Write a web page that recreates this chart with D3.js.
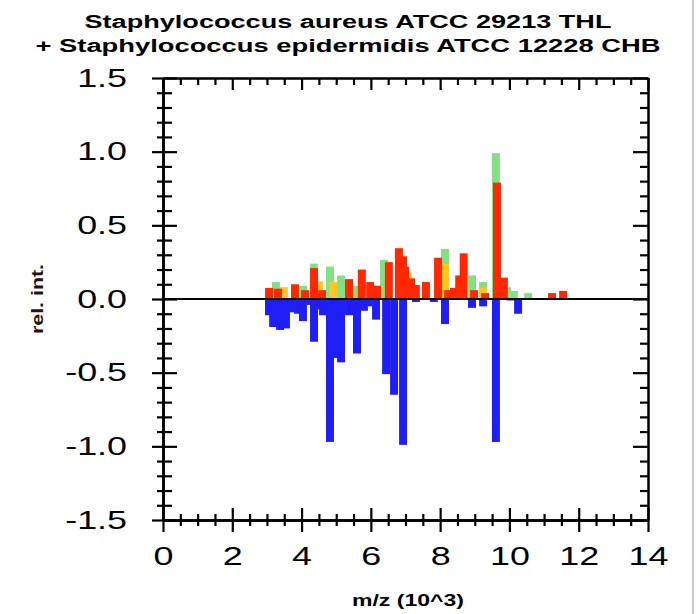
<!DOCTYPE html>
<html>
<head>
<meta charset="utf-8">
<script src="https://cdn.jsdelivr.net/npm/d3@7"></script>
<style>
  html, body { margin: 0; padding: 0; background: #fff; }
  svg { display: block; }
</style>
</head>
<body>
<div id="chart"></div>
<script>
// Chart text
const titleLines = [
  "Staphylococcus aureus ATCC 29213 THL",
  "+ Staphylococcus epidermidis ATCC 12228 CHB"
];
const xLabel = "m/z (10^3)";
const yLabel = "rel. int.";

// Tick values (m/z in thousands, relative intensity)
const xTicks = [0, 2, 4, 6, 8, 10, 12, 14];
const yTicks = [-1.5, -1.0, -0.5, 0.0, 0.5, 1.0, 1.5];

// Peaks as [m/z (10^3), rel. int.].
// Upper spectrum is made of three overlaid layers, lower spectrum is mirrored.
const greenPeaks = [
  [3.26, 0.115], [4.04, 0.09], [4.36, 0.24], [4.82, 0.22], [5.14, 0.16],
  [5.54, 0.09], [6.38, 0.265], [8.14, 0.34], [8.92, 0.16], [9.24, 0.115],
  [9.61, 0.99], [9.93, 0.08], [10.13, 0.055], [10.54, 0.04]
];
const yellowPeaks = [
  [3.49, 0.08], [4.50, 0.12], [4.91, 0.115], [5.43, 0.05], [7.07, 0.18],
  [8.14, 0.24], [9.24, 0.075]
];
const redPeaks = [
  [3.06, 0.075], [3.32, 0.07], [3.81, 0.10], [4.10, 0.06], [4.36, 0.21],
  [4.59, 0.06], [5.37, 0.135], [5.74, 0.20], [5.98, 0.115], [6.18, 0.09],
  [6.52, 0.25], [6.81, 0.345], [6.93, 0.29], [6.99, 0.22], [7.16, 0.14],
  [7.30, 0.095], [7.59, 0.115], [7.94, 0.28], [8.23, 0.06], [8.40, 0.075],
  [8.55, 0.16], [8.68, 0.31], [8.98, 0.06], [9.30, 0.04], [9.64, 0.79],
  [9.84, 0.145], [11.23, 0.04], [11.55, 0.055]
];
const bluePeaks = [
  [3.06, -0.11], [3.18, -0.19], [3.38, -0.21], [3.55, -0.20], [3.72, -0.09],
  [3.90, -0.10], [4.04, -0.15], [4.19, -0.04], [4.36, -0.29], [4.53, -0.07],
  [4.62, -0.11], [4.82, -0.97], [4.99, -0.40], [5.14, -0.43], [5.37, -0.11],
  [5.60, -0.37], [5.80, -0.08], [5.92, -0.05], [6.15, -0.14], [6.44, -0.51],
  [6.67, -0.65], [6.93, -0.99], [7.30, -0.02], [7.82, -0.02], [8.14, -0.17],
  [8.92, -0.06], [9.24, -0.05], [9.61, -0.97], [10.02, -0.01], [10.25, -0.10]
];

const width = 699, height = 614;
const plot = { left: 163, right: 648, top: 78, bottom: 520 };
const barWidth = 0.23; // in m/z units

const x = d3.scaleLinear().domain([0, 14]).range([plot.left, plot.right]);
const y = d3.scaleLinear().domain([-1.5, 1.5]).range([plot.bottom, plot.top]);

const svg = d3.select("#chart")
  .append("svg")
  .attr("width", width)
  .attr("height", height);

// faint frame at the right edge of the picture
svg.append("line")
  .attr("x1", 693).attr("x2", 693)
  .attr("y1", 0).attr("y2", height)
  .attr("stroke", "#c8c8c8")
  .attr("stroke-width", 2);

// Draw one layer of bars
function drawBars(data, color) {
  svg.append("g")
    .selectAll("rect")
    .data(data)
    .enter()
    .append("rect")
    .attr("x", (d) => x(d[0] - barWidth / 2))
    .attr("width", x(barWidth) - x(0))
    .attr("y", (d) => y(Math.max(0, d[1])))
    .attr("height", (d) => Math.abs(y(d[1]) - y(0)))
    .attr("fill", color);
}

drawBars(greenPeaks, "#84e084");
drawBars(yellowPeaks, "#ffc61e");
drawBars(redPeaks, "#ff2800");
drawBars(bluePeaks, "#1e1ef5");

// zero line
svg.append("line")
  .attr("x1", x(0)).attr("x2", x(14))
  .attr("y1", y(0)).attr("y2", y(0))
  .attr("stroke", "#000")
  .attr("stroke-width", 2);

const xMinor = d3.range(0, 14.001, 0.5).filter((v) => v % 2 !== 0);
const yMinor = d3.range(-15, 16, 1).map((v) => v / 10).filter((v) => Math.abs(v * 2 - Math.round(v * 2)) > 1e-6);

// Helper: add an axis group with given ticks and size, no labels
function tickAxis(axisFn, scale, values, size, transform) {
  const g = svg.append("g")
    .attr("transform", transform)
    .call(axisFn(scale).tickValues(values).tickSize(size).tickSizeOuter(0).tickFormat(""));
  g.selectAll("line").attr("stroke", "#000").attr("stroke-width", 2.2);
  g.select(".domain").attr("stroke", "#000").attr("stroke-width", 2);
  return g;
}

// bottom axis: ticks cross the line
const atBottom = `translate(0,${plot.bottom})`;
const xAxisG = tickAxis(d3.axisBottom, x, xTicks, 12, atBottom);
tickAxis(d3.axisBottom, x, xMinor, 6, atBottom);
tickAxis(d3.axisTop, x, xTicks, 12, atBottom);
tickAxis(d3.axisTop, x, xMinor, 6, atBottom);

// top axis: ticks point inside
const atTop = `translate(0,${plot.top})`;
tickAxis(d3.axisBottom, x, xTicks, 12, atTop);
tickAxis(d3.axisBottom, x, xMinor, 7, atTop);

// left axis: ticks cross the line
const atLeft = `translate(${plot.left},0)`;
const yAxisG = tickAxis(d3.axisLeft, y, yTicks, 11, atLeft);
tickAxis(d3.axisLeft, y, yMinor, 6, atLeft);
tickAxis(d3.axisRight, y, yTicks, 14, atLeft);
tickAxis(d3.axisRight, y, yMinor, 9, atLeft);

// right axis: ticks point inside
const atRight = `translate(${plot.right},0)`;
tickAxis(d3.axisLeft, y, yTicks, 15, atRight);
tickAxis(d3.axisLeft, y, yMinor, 8, atRight);

// tick labels (wide sans look of the original)
const stretch = 1.38;
xAxisG.selectAll(".tick text")
  .text((d) => d)
  .attr("y", 27)
  .attr("font-size", 26)
  .attr("font-family", "'Liberation Sans', Arial, sans-serif")
  .attr("fill", "#000")
  .attr("transform", `scale(${stretch},1)`);

yAxisG.selectAll(".tick text")
  .text((d) => d.toFixed(1))
  .attr("x", -36 / stretch)
  .attr("font-size", 26)
  .attr("font-family", "'Liberation Sans', Arial, sans-serif")
  .attr("fill", "#000")
  .attr("transform", `scale(${stretch},1)`);

// title
const titleWidths = [527, 625];
svg.selectAll(".title")
  .data(titleLines)
  .enter()
  .append("text")
  .attr("class", "title")
  .attr("x", 348)
  .attr("y", (d, i) => 28 + i * 24)
  .attr("text-anchor", "middle")
  .attr("font-family", "'Liberation Sans', Arial, sans-serif")
  .attr("font-weight", "bold")
  .attr("font-size", 18)
  .attr("textLength", (d, i) => titleWidths[i])
  .attr("lengthAdjust", "spacingAndGlyphs")
  .text((d) => d);

// axis titles
svg.append("text")
  .attr("x", 408)
  .attr("y", 606)
  .attr("text-anchor", "middle")
  .attr("font-family", "'Liberation Sans', Arial, sans-serif")
  .attr("font-weight", "bold")
  .attr("font-size", 17)
  .attr("textLength", 112)
  .attr("lengthAdjust", "spacingAndGlyphs")
  .text(xLabel);

svg.append("text")
  .attr("transform", `translate(43,${y(0)}) rotate(-90)`)
  .attr("text-anchor", "middle")
  .attr("font-family", "'Liberation Sans', Arial, sans-serif")
  .attr("font-weight", "bold")
  .attr("font-size", 17)
  .attr("fill", "#2a1010")
  .attr("textLength", 70)
  .attr("lengthAdjust", "spacingAndGlyphs")
  .text(yLabel);
</script>
</body>
</html>
